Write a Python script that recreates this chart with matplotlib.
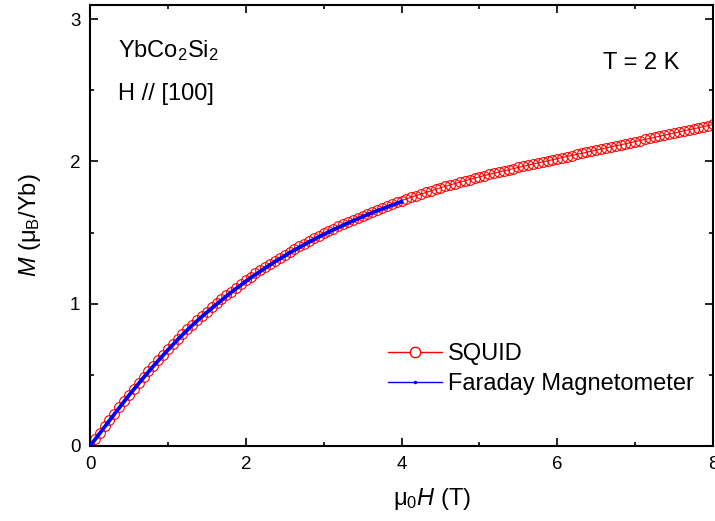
import numpy as np
import matplotlib
matplotlib.use("Agg")
import matplotlib.pyplot as plt
from matplotlib.lines import Line2D
from matplotlib.ticker import MultipleLocator

plt.rcParams['font.family'] = ['Liberation Sans', 'DejaVu Sans']
plt.rcParams['mathtext.fontset'] = 'custom'
plt.rcParams['mathtext.rm'] = 'Liberation Sans'
plt.rcParams['mathtext.it'] = 'Liberation Sans:italic'
plt.rcParams['mathtext.bf'] = 'Liberation Sans:bold'

# SQUID data, field steps of 0.0625 T from 0 to 8 T
squid_H = np.arange(129) * 0.0625
squid_M = [
    0.000, 0.047, 0.093, 0.138, 0.183, 0.228, 0.272, 0.316, 0.360,
    0.402, 0.444, 0.485, 0.525, 0.565, 0.604, 0.642, 0.680,
    0.716, 0.752, 0.787, 0.821, 0.854, 0.886, 0.916, 0.945,
    0.974, 1.003, 1.031, 1.059, 1.086, 1.113, 1.139, 1.165,
    1.189, 1.213, 1.236, 1.259, 1.281, 1.303, 1.324, 1.345,
    1.365, 1.385, 1.404, 1.423, 1.442, 1.460, 1.478, 1.495,
    1.512, 1.528, 1.544, 1.560, 1.575, 1.590, 1.605, 1.620,
    1.634, 1.648, 1.661, 1.674, 1.687, 1.700, 1.713, 1.725,
    1.737, 1.749, 1.760, 1.771, 1.782, 1.793, 1.804, 1.815,
    1.825, 1.835, 1.845, 1.854, 1.864, 1.873, 1.883, 1.892,
    1.901, 1.909, 1.918, 1.926, 1.934, 1.942, 1.950, 1.958,
    1.966, 1.974, 1.982, 1.989, 1.997, 2.005, 2.012, 2.020,
    2.027, 2.035, 2.042, 2.050, 2.057, 2.065, 2.072, 2.080,
    2.087, 2.095, 2.102, 2.110, 2.117, 2.125, 2.132, 2.140,
    2.147, 2.155, 2.162, 2.170, 2.177, 2.185, 2.192, 2.200,
    2.207, 2.215, 2.222, 2.230, 2.237, 2.245, 2.252, 2.260,
]

# Faraday magnetometer data, 0 to 4 T in 0.1 T steps
faraday_H = np.arange(41) * 0.1
faraday_M = [
    0.000, 0.071, 0.143, 0.215, 0.286, 0.356, 0.423, 0.489, 0.553, 0.615,
    0.675, 0.733, 0.789, 0.842, 0.892, 0.939, 0.985, 1.030, 1.074, 1.116,
    1.157, 1.196, 1.233, 1.269, 1.304, 1.337, 1.369, 1.400, 1.430, 1.459,
    1.487, 1.514, 1.539, 1.564, 1.588, 1.612, 1.634, 1.656, 1.676, 1.697,
    1.717,
]

fig = plt.figure(figsize=(7.15, 5.21), dpi=100)
ax = fig.add_axes([90 / 715, 1 - 446 / 521, 623 / 715, 441 / 521])

ax.plot(squid_H, squid_M, '-o', color='red', lw=0.8, ms=7, mfc='none',
        mec='red', mew=0.8, zorder=2)
ax.plot(faraday_H, faraday_M, '-', color='blue', lw=2.7, zorder=3)

ax.set_xlim(0, 8)
ax.set_ylim(0, 3.1)
ax.xaxis.set_major_locator(MultipleLocator(2))
ax.xaxis.set_minor_locator(MultipleLocator(1))
ax.yaxis.set_major_locator(MultipleLocator(1))
ax.yaxis.set_minor_locator(MultipleLocator(0.5))

for sp in ax.spines.values():
    sp.set_linewidth(1.5)
ax.tick_params(which='both', direction='in', top=True, right=True, width=1.2)
ax.tick_params(which='major', length=5.5, pad=7, labelsize=13.5)
ax.tick_params(which='minor', length=3)

ax.set_xlabel(r'μ$_0$$H$ (T)', fontsize=17)
ax.set_ylabel(r'$M$ (μ$_\mathrm{B}$/Yb)', fontsize=17)
ax.xaxis.set_label_coords(0.549, -0.09)
ax.yaxis.set_label_coords(-0.075, 0.5)

ax.text(0.045, 0.882, r'YbCo$_2$Si$_2$', transform=ax.transAxes,
        fontsize=17, va='baseline')
ax.text(0.045, 0.785, 'H // [100]', transform=ax.transAxes,
        fontsize=17, va='baseline')
ax.text(0.823, 0.855, 'T = 2 K', transform=ax.transAxes,
        fontsize=17, va='baseline')

handles = [
    Line2D([], [], color='red', lw=1, marker='o', ms=7.5, mfc='white', mec='red', mew=1),
    Line2D([], [], color='blue', lw=1, marker='.', ms=3),
]
ax.legend(handles, ['SQUID', 'Faraday Magnetometer'], loc='upper left',
          bbox_to_anchor=(0.478, 0.234), frameon=False, fontsize=17,
          handlelength=2.3, handletextpad=0.25, labelspacing=0.35,
          borderpad=0, borderaxespad=0, numpoints=1)

fig.savefig('out.png', dpi=100)
